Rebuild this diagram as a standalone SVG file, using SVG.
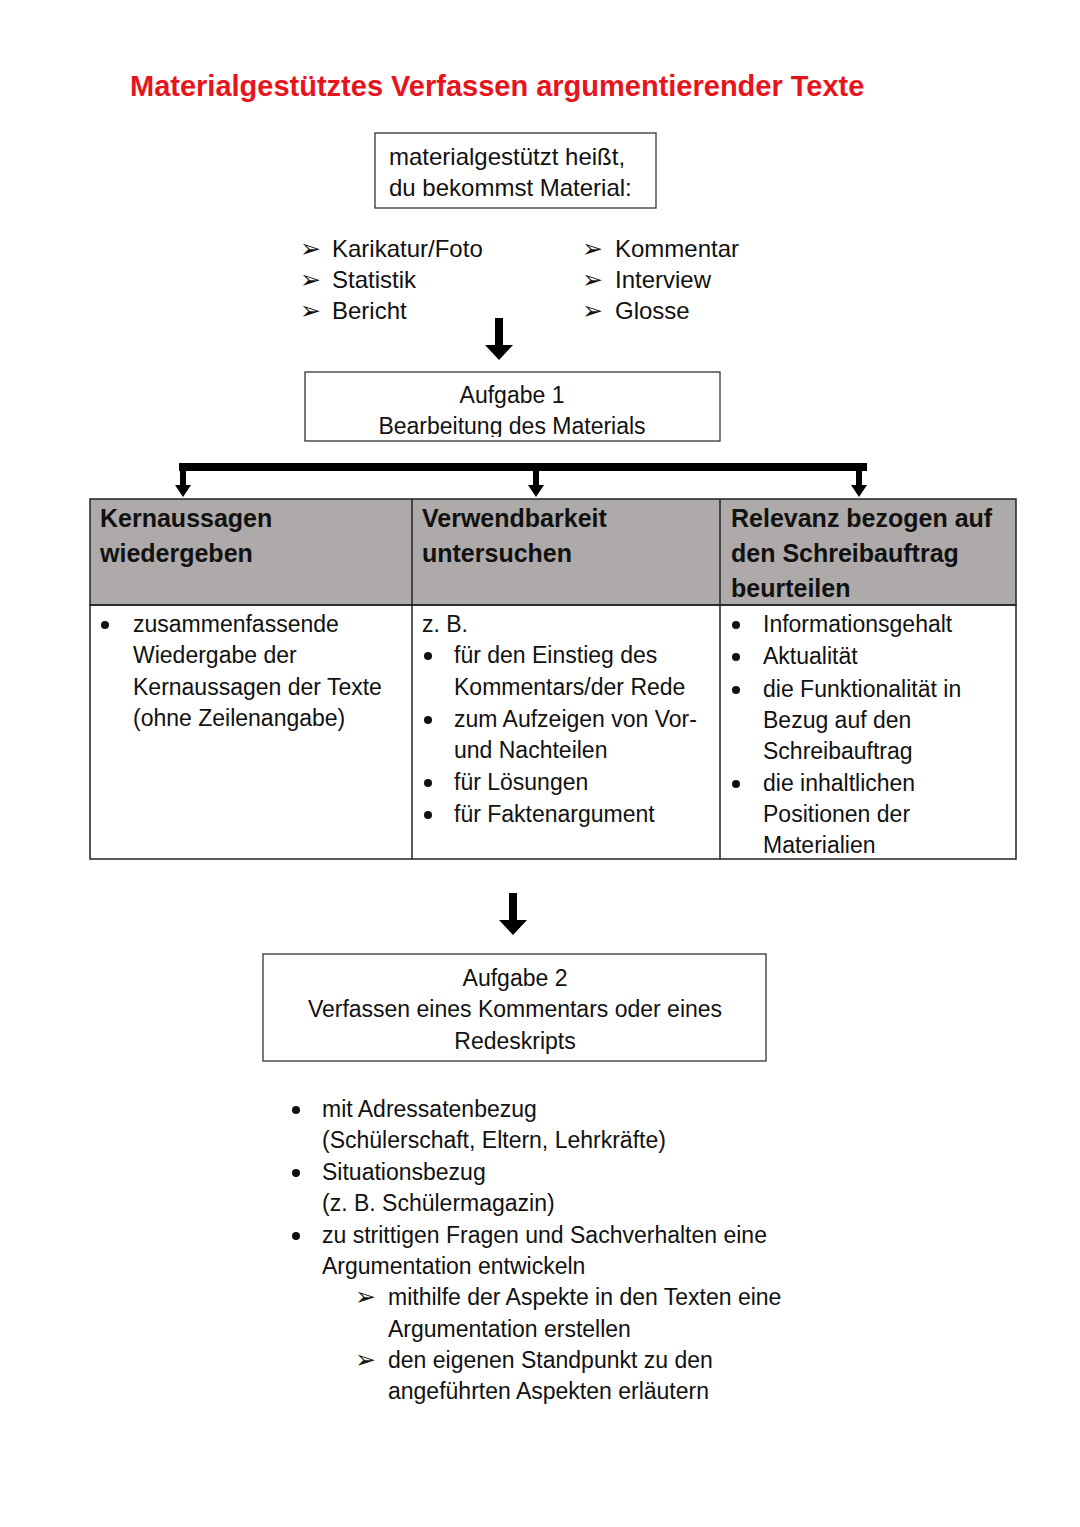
<svg xmlns="http://www.w3.org/2000/svg" width="1080" height="1527" viewBox="0 0 1080 1527">
<defs>
<style>
.t{font-family:"Liberation Sans",Arial,sans-serif;font-size:23px;fill:#111}
.l{font-size:24px}
.c{text-anchor:middle}
.h{font-family:"Liberation Sans",Arial,sans-serif;font-size:25px;font-weight:bold;fill:#111}
.ttl{font-family:"Liberation Sans",Arial,sans-serif;font-size:29px;font-weight:bold;fill:#e8141c}
.ar{font-family:"DejaVu Sans",sans-serif;font-size:25px;fill:#111}
.b{fill:#111}
.box{fill:#fff;stroke:#333;stroke-width:1.3}
.cell{fill:none;stroke:#222;stroke-width:1.5}
.hdr{fill:#aeaaaa;stroke:#222;stroke-width:1.5}
</style>
<clipPath id="clipA1"><rect x="305" y="372" width="415" height="65"/></clipPath>
</defs>
<rect width="1080" height="1527" fill="#fff"/>

<text class="ttl" x="130" y="96">Materialgestütztes Verfassen argumentierender Texte</text>

<g id="box-material">
<rect class="box" x="375" y="133" width="281" height="75"/>
<text class="t l" x="389" y="165">materialgestützt heißt,</text>
<text class="t l" x="389" y="196">du bekommst Material:</text>
</g>

<g id="materials">
<text class="ar" x="300" y="257">➢</text><text class="t l" x="332" y="257">Karikatur/Foto</text>
<text class="ar" x="300" y="288">➢</text><text class="t l" x="332" y="288">Statistik</text>
<text class="ar" x="300" y="319">➢</text><text class="t l" x="332" y="319">Bericht</text>
<text class="ar" x="582" y="257">➢</text><text class="t l" x="615" y="257">Kommentar</text>
<text class="ar" x="582" y="288">➢</text><text class="t l" x="615" y="288">Interview</text>
<text class="ar" x="582" y="319">➢</text><text class="t l" x="615" y="319">Glosse</text>
</g>

<g id="aufgabe1">
<rect class="box" x="305" y="372" width="415" height="69"/>
<g clip-path="url(#clipA1)">
<text class="t c" x="512" y="403">Aufgabe 1</text>
<text class="t c" x="512" y="434">Bearbeitung des Materials</text>
</g>
</g>

<g id="table">
<rect class="hdr" x="90" y="499" width="926" height="106"/>
<rect class="cell" x="90" y="605" width="926" height="254"/>
<line class="cell" x1="412" y1="499" x2="412" y2="859"/>
<line class="cell" x1="720" y1="499" x2="720" y2="859"/>
</g>

<g id="col1">
<text class="h" x="100" y="527">Kernaussagen</text>
<text class="h" x="100" y="562">wiedergeben</text>
<circle class="b" cx="105" cy="625" r="4"/>
<text class="t" x="133" y="632">zusammenfassende</text>
<text class="t" x="133" y="663">Wiedergabe der</text>
<text class="t" x="133" y="695">Kernaussagen der Texte</text>
<text class="t" x="133" y="726">(ohne Zeilenangabe)</text>
</g>

<g id="col2">
<text class="h" x="422" y="527">Verwendbarkeit</text>
<text class="h" x="422" y="562">untersuchen</text>
<text class="t" x="422" y="632">z. B.</text>
<circle class="b" cx="428" cy="656" r="4"/><text class="t" x="454" y="663">für den Einstieg des</text>
<text class="t" x="454" y="695">Kommentars/der Rede</text>
<circle class="b" cx="428" cy="720" r="4"/><text class="t" x="454" y="727">zum Aufzeigen von Vor-</text>
<text class="t" x="454" y="758">und Nachteilen</text>
<circle class="b" cx="428" cy="783" r="4"/><text class="t" x="454" y="790">für Lösungen</text>
<circle class="b" cx="428" cy="815" r="4"/><text class="t" x="454" y="822">für Faktenargument</text>
</g>

<g id="col3">
<text class="h" x="731" y="527">Relevanz bezogen auf</text>
<text class="h" x="731" y="562">den Schreibauftrag</text>
<text class="h" x="731" y="597">beurteilen</text>
<circle class="b" cx="736" cy="625" r="4"/><text class="t" x="763" y="632">Informationsgehalt</text>
<circle class="b" cx="736" cy="657" r="4"/><text class="t" x="763" y="664">Aktualität</text>
<circle class="b" cx="736" cy="690" r="4"/><text class="t" x="763" y="697">die Funktionalität in</text>
<text class="t" x="763" y="728">Bezug auf den</text>
<text class="t" x="763" y="759">Schreibauftrag</text>
<circle class="b" cx="736" cy="784" r="4"/><text class="t" x="763" y="791">die inhaltlichen</text>
<text class="t" x="763" y="822">Positionen der</text>
<text class="t" x="763" y="853">Materialien</text>
</g>

<g id="aufgabe2">
<rect class="box" x="263" y="954" width="503" height="107"/>
<text class="t c" x="515" y="986">Aufgabe 2</text>
<text class="t c" x="515" y="1017">Verfassen eines Kommentars oder eines</text>
<text class="t c" x="515" y="1049">Redeskripts</text>
</g>

<g id="list2">
<circle class="b" cx="296" cy="1110" r="4"/><text class="t" x="322" y="1117">mit Adressatenbezug</text>
<text class="t" x="322" y="1148">(Schülerschaft, Eltern, Lehrkräfte)</text>
<circle class="b" cx="296" cy="1173" r="4"/><text class="t" x="322" y="1180">Situationsbezug</text>
<text class="t" x="322" y="1211">(z. B. Schülermagazin)</text>
<circle class="b" cx="296" cy="1236" r="4"/><text class="t" x="322" y="1243">zu strittigen Fragen und Sachverhalten eine</text>
<text class="t" x="322" y="1274">Argumentation entwickeln</text>
<text class="ar" x="355" y="1305">➢</text><text class="t" x="388" y="1305">mithilfe der Aspekte in den Texten eine</text>
<text class="t" x="388" y="1337">Argumentation erstellen</text>
<text class="ar" x="355" y="1368">➢</text><text class="t" x="388" y="1368">den eigenen Standpunkt zu den</text>
<text class="t" x="388" y="1399">angeführten Aspekten erläutern</text>
</g>

<g id="connectors" fill="#000">
<polygon points="495,318 503,318 503,345 513,345 499,360 485,345 495,345"/>
<rect x="179" y="463" width="688" height="8"/>
<rect x="180" y="463" width="6" height="24"/>
<polygon points="175,485 191,485 183,497"/>
<rect x="533" y="463" width="6" height="24"/>
<polygon points="528,485 544,485 536,497"/>
<rect x="856" y="463" width="6" height="24"/>
<polygon points="851,485 867,485 859,497"/>
<polygon points="509,893 517,893 517,920 527,920 513,935 499,920 509,920"/>
</g>
</svg>
